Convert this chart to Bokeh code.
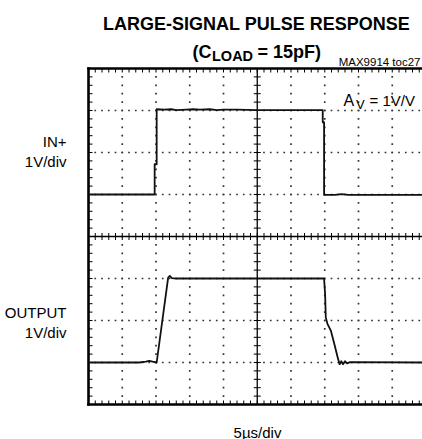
import numpy as np
from bokeh.plotting import figure
from bokeh.models import Range1d, Label
from bokeh.embed import file_html
from bokeh.resources import INLINE

# ---- data (screen divisions: x in 5us/div, y in 1V/div, 0 = screen centre) ----
in_x = [0.0, 1.96, 1.96, 2.02, 2.02, 2.25, 2.45, 2.6, 2.9, 3.1, 3.3, 3.6, 3.8,
        4.0, 4.4, 5.0, 6.0, 6.94, 6.94, 6.98, 6.98, 7.3, 7.5, 7.7, 8.5, 9.9]
in_y = [1.0, 1.0, 1.72, 1.72, 3.03, 3.02, 3.03, 3.01, 3.02, 3.03, 3.02, 3.03, 3.01,
        3.02, 3.02, 3.01, 3.01, 3.01, 2.72, 2.72, 0.99, 0.99, 1.01, 0.99, 0.99, 0.99]

out_x = [0.0, 1.5, 1.7, 1.8, 1.9, 2.02, 2.36, 2.41, 2.47, 2.6, 6.98, 7.01, 7.03,
         7.08, 7.18, 7.28, 7.38, 7.44, 7.49, 7.54, 7.6, 7.66, 7.75, 9.9]
out_y = [-3.0, -3.0, -2.98, -2.96, -2.98, -3.0, -0.98, -0.94, -0.99, -1.0, -1.0, -1.36, -1.92,
         -2.08, -2.24, -2.55, -2.87, -3.04, -2.97, -3.04, -2.97, -3.02, -2.99, -3.0]

# ---- layout ----
W, H = 422, 439
GL, GC = 88, 236        # graticule left edge / vertical centre (pixels)
PXX = 33.75             # pixels per horizontal division
PXY = 42.0              # pixels per vertical division


def dx(px):
    return (px - GL) / PXX


def dy(py):
    return (GC - py) / PXY


X_END = dx(W)

p = figure(width=W, height=H, x_range=Range1d(dx(0), dx(W)), y_range=Range1d(dy(H), dy(0)),
           output_backend="svg", toolbar_location=None,
           min_border_left=0, min_border_right=0, min_border_top=0, min_border_bottom=0)
p.axis.visible = False
p.outline_line_color = None
p.xgrid.visible = False
p.ygrid.visible = False
p.background_fill_color = "white"
p.border_fill_color = "white"

# dotted graticule
gx, gy = [], []
for yv in [-3, -2, -1, 1, 2, 3]:
    for k in range(1, 50):
        gx.append(k * 0.2)
        gy.append(yv)
for xv in [1, 2, 3, 4, 6, 7, 8, 9]:
    for k in range(1, 40):
        gx.append(xv)
        gy.append(-4 + 0.2 * k)
p.scatter(gx, gy, marker="square", size=1.7, fill_color="#333333", line_color=None)

# centre cross with ticks
p.segment(x0=[0, 5], x1=[X_END + 1, 5], y0=[0, -4], y1=[0, 4], line_color="black", line_width=1.3)
TL = 3.5
hx = [k * 0.2 for k in range(1, 50)]
p.segment(x0=hx, x1=hx, y0=[-TL / PXY] * len(hx), y1=[TL / PXY] * len(hx),
          line_color="black", line_width=1)
vy = [-4 + k * 0.2 for k in range(1, 40)]
p.segment(x0=[5 - TL / PXX] * len(vy), x1=[5 + TL / PXX] * len(vy), y0=vy, y1=vy,
          line_color="black", line_width=1)

# outer border with inward ticks
p.segment(x0=[0, 0, 0], x1=[0, X_END + 1, X_END + 1], y0=[-4, 4, -4], y1=[4, 4, -4],
          line_color="black", line_width=2.6, line_cap="square")
BT = 4.0
bx = [k * 0.2 for k in range(1, 50)]
p.segment(x0=bx, x1=bx, y0=[4] * len(bx), y1=[4 - BT / PXY] * len(bx), line_color="black", line_width=1)
p.segment(x0=bx, x1=bx, y0=[-4] * len(bx), y1=[-4 + BT / PXY] * len(bx), line_color="black", line_width=1)
by = [-4 + k * 0.2 for k in range(1, 40)]
p.segment(x0=[0] * len(by), x1=[BT / PXX] * len(by), y0=by, y1=by, line_color="black", line_width=1)

# traces
p.line(in_x, in_y, line_width=1.8, line_color="#111111", line_join="round")
p.line(out_x, out_y, line_width=1.8, line_color="#111111", line_join="round")

# ---- texts ----
FONT = "Liberation Sans"


def add_text(txt, px, py, size, bold=False, align="left"):
    p.add_layout(Label(x=dx(px), y=dy(py), text=txt, text_font=FONT,
                       text_font_size=f"{size}px",
                       text_font_style="bold" if bold else "normal",
                       text_align=align, text_baseline="alphabetic",
                       text_color="black"))


add_text("LARGE-SIGNAL PULSE RESPONSE", 256, 23, 18, bold=True, align="center")
add_text("(C", 192, 51.5, 18, bold=True)
add_text("LOAD", 211.5, 55.5, 14.5, bold=True)
add_text("= 15pF)", 257, 51.5, 18, bold=True)
add_text("MAX9914 toc27", 420, 61.5, 11.5, align="right")

add_text("A", 343, 99.5, 16)
add_text("V", 355.5, 103.5, 13)
add_text("= 1V/V", 369, 99.5, 15)

add_text("IN+", 66, 140.5, 15, align="right")
add_text("1V/div", 66, 160.5, 15, align="right")
add_text("OUTPUT", 66, 311.5, 15, align="right")
add_text("1V/div", 66, 331.5, 15, align="right")
add_text("5\u00b5s/div", 257, 431.5, 15, align="center")

open("out.html", "w").write(file_html(p, INLINE))
